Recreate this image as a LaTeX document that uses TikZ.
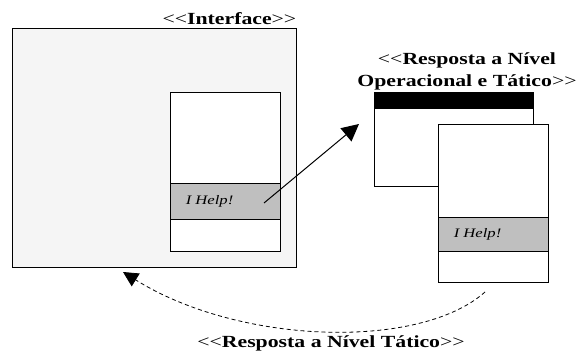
\documentclass[tikz,border=0pt]{standalone}
\usepackage{fontspec}
\setmainfont{Liberation Serif}
\usepackage{xcolor}
\usetikzlibrary{arrows.meta}
\usetikzlibrary{calc}
\colorlet{pane}{black!4}
\colorlet{helpgray}{black!25}
\newcommand\lt{{\mdseries<\kern0pt<}}
\newcommand\gt{{\mdseries>\kern0pt>}}
\newcommand\stereo[1]{\lt\textbf{#1}\gt}
\tikzstyle{box}=[draw,line width=1pt,inner sep=0pt,rectangle]
\tikzstyle{winbox}=[box,fill=white,minimum width=110pt]
\tikzstyle{helpbar}=[box,fill=helpgray,minimum width=110pt]
\tikzstyle{lbl}=[font=\fontsize{17}{22}\selectfont,inner sep=0pt,xscale=1.28,transform shape]
\tikzstyle{helptxt}=[font=\fontsize{13}{15}\selectfont\itshape,inner sep=0pt,xscale=1.28,transform shape]
\tikzstyle{msg}=[line width=1pt,-{Triangle[length=17pt,width=17pt]}]
\tikzstyle{back}=[line width=.8pt,dash pattern=on 4pt off 3pt,-{Triangle[length=15pt,width=15pt]}]

\begin{document}
\begin{tikzpicture}[x=1pt,y=1pt]
	\useasboundingbox (0,0) rectangle (576,354);
	\node[box,fill=pane,minimum width=284pt,minimum height=238pt] (iface) at (154,206) {};
	\node[winbox,minimum height=158pt] (win) at (225,182) {};
	\node[helpbar,minimum height=35pt] (help) at (225,152.5) {};
	\node[helptxt,anchor=west] (helptext) at ($(help.west)+(16,0)$) {I Help!};
	\node[lbl,anchor=base east] (ifacelbl) at ($(iface.north east)+(0,4)$) {\stereo{Interface}};

	\node[box,fill=white,minimum width=159pt,minimum height=94pt] (resp) at (453.5,214) {};
	\node[box,fill=black,minimum width=159pt,minimum height=16pt,anchor=north] (bar) at (resp.north) {};
	\node[winbox,minimum height=157pt] (front) at (493,150.5) {};
	\node[helpbar,minimum height=34pt] (help2) at (493,120) {};
	\node[helptxt,anchor=west] (helptext2) at ($(help2.west)+(16,0)$) {I Help!};
	\node[lbl,align=center] (resplbl) at (467,283) {\lt\textbf{Resposta a Nível}\\\textbf{Operacional e Tático}\gt};

	\coordinate (from) at (264,151);
	\coordinate (to) at (359,230);
	\draw[msg] (from) -- (to);

	\coordinate (src) at (485,62);
	\coordinate (dst) at (123,82);
	\draw[back] (src) .. controls (420,4) and (240,9) .. (dst);
	\node[lbl,anchor=base] (tatlbl) at (331,7) {\stereo{Resposta a Nível Tático}};
\end{tikzpicture}
\end{document}
